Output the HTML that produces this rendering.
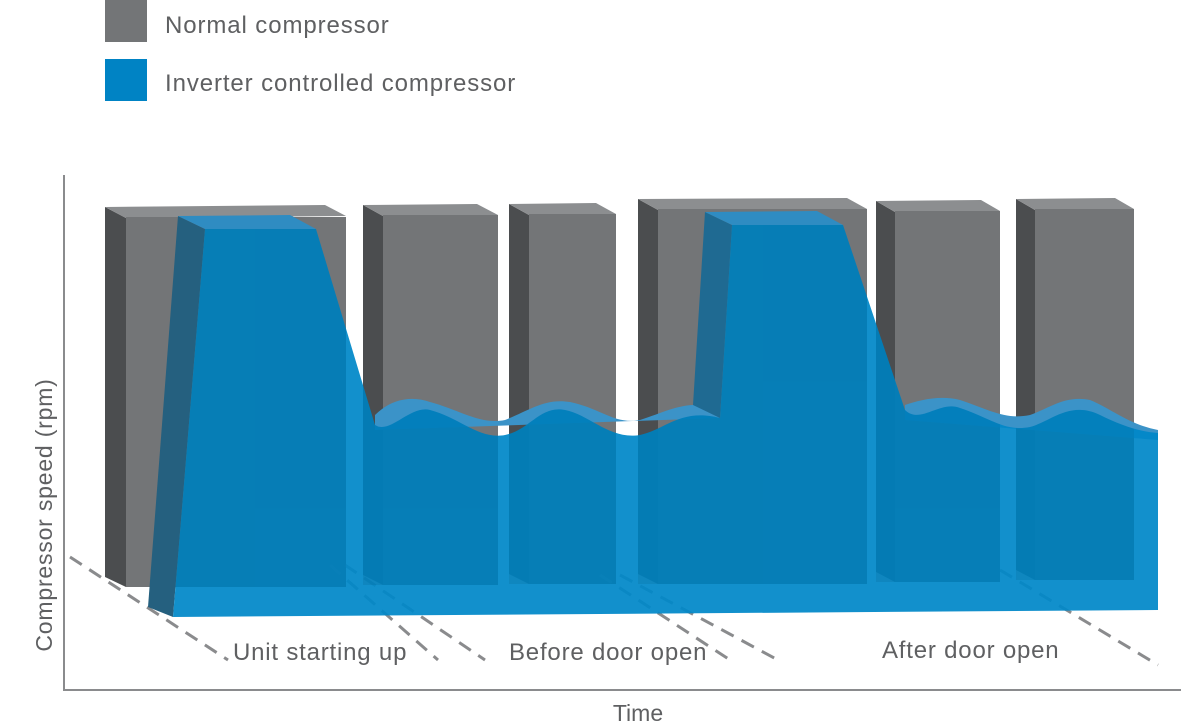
<!DOCTYPE html>
<html><head><meta charset="utf-8"><style>
html,body{margin:0;padding:0;background:#fff;}
svg{display:block;font-family:"Liberation Sans",sans-serif;}
</style></head><body>
<svg width="1181" height="728" viewBox="0 0 1181 728">
<defs>
<clipPath id="bc"><path d="M173,617 L205,229 L316,229 L375,425 C390,435 410,405 430,410 C460,418 480,440 505,435 C530,430 540,405 565,410 C590,415 610,440 640,435 C665,430 680,408 720,418 L732,225 L843,225 L905,410 C920,425 940,400 960,408 C990,418 1005,432 1030,427 C1050,422 1070,400 1100,415 C1120,425 1140,432 1158,433 L1158,610 Z"/></clipPath>
</defs>
<rect width="1181" height="728" fill="#fff"/>
<!-- legend -->
<rect x="105" y="0" width="42" height="42" fill="#737577"/>
<rect x="105" y="59" width="42" height="42" fill="#0083c4"/>
<text x="165" y="33" font-size="24" fill="#5f6062" letter-spacing="0.9">Normal compressor</text>
<text x="165" y="91" font-size="24" fill="#5f6062" letter-spacing="0.9">Inverter controlled compressor</text>
<!-- axes -->
<line x1="64" y1="175" x2="64" y2="691" stroke="#8a8b8d" stroke-width="2"/>
<line x1="63" y1="690" x2="1181" y2="690" stroke="#8a8b8d" stroke-width="2"/>
<text transform="translate(52,515) rotate(-90)" text-anchor="middle" font-size="23" fill="#5f6062" letter-spacing="0.8">Compressor speed (rpm)</text>
<text x="638" y="721" text-anchor="middle" font-size="23" fill="#5f6062">Time</text>
<!-- gray bars -->
<g id="bars">
<polygon points="105,207 126,218 126,587 105,577" fill="#4b4d4f"/><polygon points="105,207 325,205 346,216 126,218" fill="#8c8e90"/><rect x="126" y="217" width="220" height="370" fill="#737577"/>
<polygon points="363,205 383,216 383,585 363,575" fill="#4b4d4f"/><polygon points="363,205 477,204 498,215 383,216" fill="#8c8e90"/><rect x="383" y="215" width="115" height="370" fill="#737577"/>
<polygon points="509,204 529,215 529,584 509,574" fill="#4b4d4f"/><polygon points="509,204 596,203 616,214 529,215" fill="#8c8e90"/><rect x="529" y="214" width="87" height="370" fill="#737577"/>
<polygon points="638,199 658,210 658,584 638,574" fill="#4b4d4f"/><polygon points="638,199 847,198 867,209 658,210" fill="#8c8e90"/><rect x="658" y="209" width="209" height="375" fill="#737577"/>
<polygon points="876,201 895,212 895,582 876,572" fill="#4b4d4f"/><polygon points="876,201 981,200 1000,211 895,212" fill="#8c8e90"/><rect x="895" y="211" width="105" height="371" fill="#737577"/>
<polygon points="1016,199 1035,210 1035,580 1016,570" fill="#4b4d4f"/><polygon points="1016,199 1115,198 1134,209 1035,210" fill="#8c8e90"/><rect x="1035" y="209" width="99" height="371" fill="#737577"/>
</g>
<!-- dashed lines -->
<g stroke="#8a8b8d" stroke-width="3" stroke-dasharray="14,9">
<line x1="70" y1="557" x2="228" y2="660"/>
<line x1="330" y1="565" x2="438" y2="660"/>
<line x1="345" y1="565" x2="485" y2="660"/>
<line x1="600" y1="575" x2="730" y2="660"/>
<line x1="620" y1="575" x2="778" y2="660"/>
<line x1="1000" y1="570" x2="1158" y2="665"/>
</g>
<!-- blue back wave -->
<path d="M375,415 C390,400 410,395 430,402 C460,410 480,425 505,420 C530,410 545,398 570,402 C600,408 615,425 640,420 C665,412 680,403 705,405 L720,418 L375,430 Z" fill="#3b93c8"/>
<path d="M905,405 C920,400 940,395 960,400 C990,410 1005,420 1030,415 C1050,408 1065,395 1090,400 C1110,408 1130,425 1158,430 L1158,440 L905,420 Z" fill="#3b93c8"/>
<!-- blue side faces -->
<polygon points="148,607 178,216 205,229 173,617" fill="#25607f"/>
<polygon points="178,216 290,215 316,229 205,229" fill="#2f8cc2"/>
<polygon points="693,405 705,212 732,225 720,418" fill="#1f6a92"/>
<polygon points="705,212 817,211 843,225 732,225" fill="#2f8cc2"/>
<!-- blue front -->
<path d="M173,617 L205,229 L316,229 L375,425 C390,435 410,405 430,410 C460,418 480,440 505,435 C530,430 540,405 565,410 C590,415 610,440 640,435 C665,430 680,408 720,418 L732,225 L843,225 L905,410 C920,425 940,400 960,408 C990,418 1005,432 1030,427 C1050,422 1070,400 1100,415 C1120,425 1140,432 1158,433 L1158,610 Z" fill="#0088c8" fill-opacity="0.93"/>
<g clip-path="url(#bc)" fill="#004a70" opacity="0.13">
<rect x="126" y="217" width="220" height="370"/>
<rect x="363" y="205" width="135" height="380"/>
<rect x="509" y="204" width="107" height="380"/>
<rect x="638" y="199" width="229" height="385"/>
<rect x="876" y="201" width="124" height="381"/>
<rect x="1016" y="199" width="118" height="381"/>
</g>
<!-- labels -->
<text x="233" y="660" font-size="24" fill="#5f6062" letter-spacing="0.8">Unit starting up</text>
<text x="509" y="660" font-size="24" fill="#5f6062" letter-spacing="0.8">Before door open</text>
<text x="882" y="658" font-size="24" fill="#5f6062" letter-spacing="0.8">After door open</text>
</svg>
</body></html>
